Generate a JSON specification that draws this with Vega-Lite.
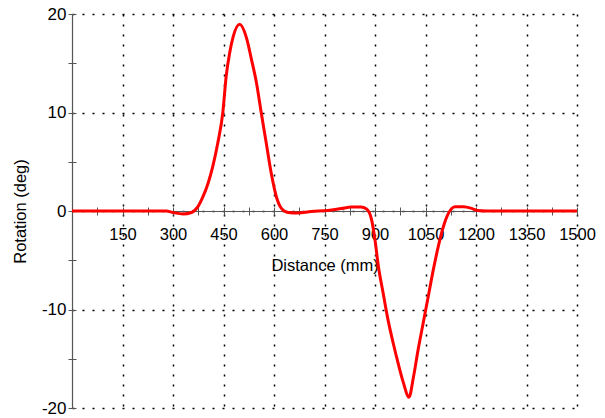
{
  "$schema": "https://vega.github.io/schema/vega-lite/v6.json",
  "width": 505,
  "height": 394,
  "autosize": {"type": "none"},
  "padding": {"left": 72, "top": 14, "right": 28, "bottom": 10},
  "background": "white",
  "config": {"view": {"stroke": null}, "font": "Liberation Sans"},
  "data": {"values": [
    {"distance": 0, "rotation": 0},
    {"distance": 150, "rotation": 0},
    {"distance": 280, "rotation": 0},
    {"distance": 300, "rotation": -0.15},
    {"distance": 330, "rotation": -0.3},
    {"distance": 355, "rotation": -0.15},
    {"distance": 374, "rotation": 0.44},
    {"distance": 389, "rotation": 1.45},
    {"distance": 404, "rotation": 2.8},
    {"distance": 418, "rotation": 4.5},
    {"distance": 433, "rotation": 6.9},
    {"distance": 448, "rotation": 10},
    {"distance": 458, "rotation": 13.7},
    {"distance": 468, "rotation": 16},
    {"distance": 478, "rotation": 17.6},
    {"distance": 498, "rotation": 18.95},
    {"distance": 518, "rotation": 17.6},
    {"distance": 533, "rotation": 15.4},
    {"distance": 548, "rotation": 13},
    {"distance": 562, "rotation": 10},
    {"distance": 577, "rotation": 6.9},
    {"distance": 592, "rotation": 3.8},
    {"distance": 607, "rotation": 1.45},
    {"distance": 622, "rotation": 0.27},
    {"distance": 642, "rotation": -0.15},
    {"distance": 670, "rotation": -0.2},
    {"distance": 710, "rotation": -0.05},
    {"distance": 760, "rotation": 0.05},
    {"distance": 800, "rotation": 0.25},
    {"distance": 830, "rotation": 0.4},
    {"distance": 858, "rotation": 0.4},
    {"distance": 875, "rotation": 0.2},
    {"distance": 890, "rotation": -0.9},
    {"distance": 900, "rotation": -2.95},
    {"distance": 910, "rotation": -5.6},
    {"distance": 924, "rotation": -8.3},
    {"distance": 939, "rotation": -11.1},
    {"distance": 954, "rotation": -13.4},
    {"distance": 969, "rotation": -15.5},
    {"distance": 984, "rotation": -17.4},
    {"distance": 1001, "rotation": -18.9},
    {"distance": 1014, "rotation": -16.9},
    {"distance": 1028, "rotation": -14.1},
    {"distance": 1043, "rotation": -11.4},
    {"distance": 1058, "rotation": -8.7},
    {"distance": 1073, "rotation": -6},
    {"distance": 1088, "rotation": -3.6},
    {"distance": 1103, "rotation": -1.6},
    {"distance": 1118, "rotation": -0.24},
    {"distance": 1138, "rotation": 0.44},
    {"distance": 1163, "rotation": 0.44},
    {"distance": 1187, "rotation": 0.27},
    {"distance": 1205, "rotation": 0.05},
    {"distance": 1230, "rotation": 0},
    {"distance": 1350, "rotation": 0},
    {"distance": 1500, "rotation": 0}
  ]},
  "layer": [
    {
      "mark": {"type": "line", "color": "#ff0000", "strokeWidth": 3, "interpolate": "monotone"},
      "encoding": {
        "x": {
          "field": "distance", "type": "quantitative",
          "scale": {"domain": [0, 1500], "nice": false},
          "axis": {
            "orient": "bottom", "offset": -197,
            "values": [75, 150, 225, 300, 375, 450, 525, 600, 675, 750, 825, 900, 975, 1050, 1125, 1200, 1275, 1350, 1425, 1500],
            "labelExpr": "datum.value % 150 === 0 ? '' + datum.value : ''",
            "grid": true, "gridColor": "black", "gridDash": [2, 8], "gridWidth": 1.5,
            "gridOpacity": {"expr": "datum.value % 150 === 0 ? 1 : 0"},
            "domainColor": "#555555", "tickColor": "#555555", "tickSize": 4, "domainWidth": 1.2,
            "labelFontSize": 16.5, "labelColor": "black", "labelPadding": 11, "labelFlush": false, "labelOverlap": false,
            "title": "Distance (mm)", "titleFontSize": 16.5, "titleFontWeight": "normal", "titleColor": "black", "titlePadding": 15
          }
        },
        "y": {
          "field": "rotation", "type": "quantitative",
          "scale": {"domain": [-20, 20], "nice": false},
          "axis": {
            "values": [-20, -15, -10, -5, 0, 5, 10, 15, 20],
            "labelExpr": "datum.value % 10 === 0 ? '' + datum.value : ''",
            "grid": true, "gridColor": "black", "gridDash": [2, 8], "gridWidth": 1.5,
            "gridOpacity": {"expr": "datum.value % 10 === 0 ? 1 : 0"},
            "domainColor": "#555555", "tickColor": "#555555", "tickSize": 4, "domainWidth": 1.2,
            "labelFontSize": 17, "labelColor": "black", "labelPadding": 2, "labelFlush": false, "labelOverlap": false,
            "title": "Rotation (deg)", "titleFontSize": 16.5, "titleFontWeight": "normal", "titleColor": "black", "titlePadding": 13
          }
        }
      }
    },
    {
      "mark": {"type": "line", "opacity": 0},
      "encoding": {
        "x": {
          "field": "distance", "type": "quantitative",
          "scale": {"domain": [0, 1500], "nice": false},
          "axis": {
            "orient": "bottom", "offset": -197,
            "values": [75, 150, 225, 300, 375, 450, 525, 600, 675, 750, 825, 900, 975, 1050, 1125, 1200, 1275, 1350, 1425, 1500],
            "labels": false, "grid": false, "domain": false, "tickSize": -4, "tickColor": "#555555", "title": null
          }
        },
        "y": {
          "field": "rotation", "type": "quantitative",
          "scale": {"domain": [-20, 20], "nice": false},
          "axis": {
            "orient": "left",
            "values": [-20, -15, -10, -5, 0, 5, 10, 15, 20],
            "labels": false, "grid": false, "domain": false, "tickSize": -4, "tickColor": "#555555", "title": null
          }
        }
      }
    }
  ],
  "resolve": {"axis": {"x": "independent", "y": "independent"}}
}
